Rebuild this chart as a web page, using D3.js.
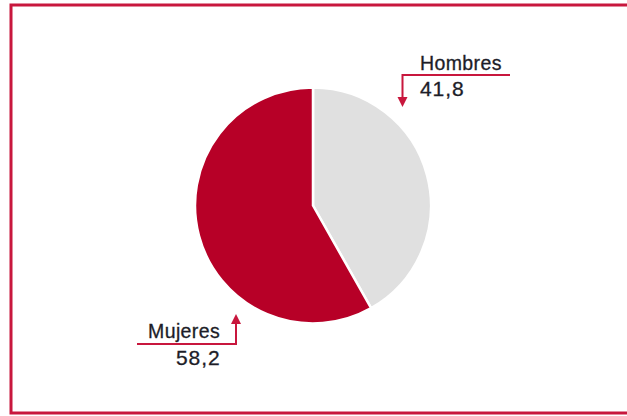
<!DOCTYPE html>
<html>
<head>
<meta charset="utf-8">
<script src="https://cdn.jsdelivr.net/npm/d3@7"></script>
<style>
  body { margin: 0; background: #fff; }
  svg text { font-family: "Liberation Sans", Arial, sans-serif; fill: #1d1d28; stroke: #1d1d28; stroke-width: 0.3px; }
</style>
</head>
<body>
<svg id="chart" width="627" height="416"></svg>
<script>
// data
const categories = ["Hombres", "Mujeres"];
const values = [41.8, 58.2];
const colors = ["#e0e0e0", "#b70027"];

const fmt = v => String(v).replace(".", ",");

const svg = d3.select("#chart");
const red = "#c8173d";

// frame (right edge runs off the page)
svg.append("rect")
  .attr("x", 11).attr("y", 5)
  .attr("width", 640).attr("height", 408)
  .attr("fill", "none")
  .attr("stroke", red)
  .attr("stroke-width", 3);

const cx = 313, cy = 205.5, radius = 118;

const pie = d3.pie().sort(null).value(d => d.value);
const arc = d3.arc().innerRadius(0).outerRadius(radius);

const pieData = pie(categories.map((c, i) => ({ key: c, value: values[i] })));

const g = svg.append("g").attr("transform", `translate(${cx}, ${cy})`);

g.selectAll("path")
  .data(pieData)
  .enter()
  .append("path")
  .attr("d", arc)
  .attr("fill", (d, i) => colors[i])
  .attr("stroke", "#fff")
  .attr("stroke-width", 2.5);

// callouts: text, underline and arrow
const callouts = [
  { name: "Hombres", tx: 420, ty: 70, nx: 420, ny: 96, line: [510, 75, 402.5, 75], ax: 402.5, tipY: 107, dir: 1 },
  { name: "Mujeres", tx: 148, ty: 338, nx: 176, ny: 365, line: [137, 344, 236, 344], ax: 236, tipY: 314, dir: -1 }
];

callouts.forEach(c => {
  const v = values[categories.indexOf(c.name)];
  svg.append("text")
    .attr("x", c.tx).attr("y", c.ty)
    .style("font-size", "19.5px")
    .style("letter-spacing", "0.4px")
    .text(c.name);
  svg.append("text")
    .attr("x", c.nx).attr("y", c.ny)
    .style("font-size", "21px")
    .style("letter-spacing", "0.9px")
    .text(fmt(v));

  const [x1, y1, x2, y2] = c.line;
  const baseY = c.tipY - c.dir * 10;
  svg.append("path")
    .attr("d", `M${x1},${y1}L${x2},${y2}L${c.ax},${baseY}`)
    .attr("fill", "none")
    .attr("stroke", red)
    .attr("stroke-width", 2);
  svg.append("path")
    .attr("d", `M${c.ax - 5},${baseY}L${c.ax + 5},${baseY}L${c.ax},${c.tipY}Z`)
    .attr("fill", red);
});
</script>
</body>
</html>
